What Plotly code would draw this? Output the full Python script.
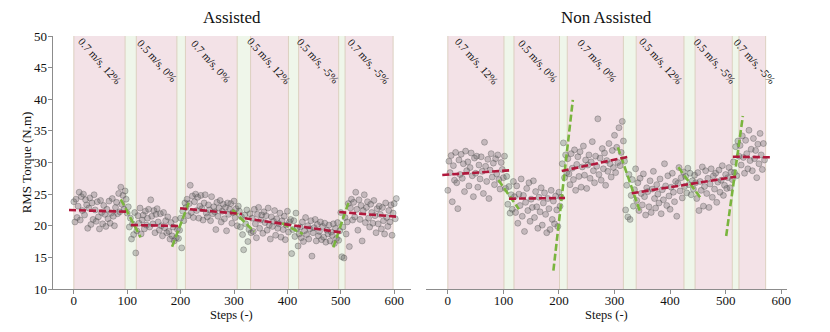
import plotly.graph_objects as go

# ---------------- data ----------------
# RMS torque per step (sampled every 2 steps), Assisted
assisted_torque = [
    23.8, 20.6, 24.2, 21.3, 23.1, 25.3, 20.9, 24.6, 22.4, 25.0,
    21.7, 24.1, 23.3, 19.6, 22.8, 24.4, 20.2, 23.6, 21.0, 24.9,
    22.5, 20.7, 23.8, 21.4, 19.5, 24.0, 22.1, 20.3, 23.2, 21.8,
    19.9, 22.6, 21.1, 23.9, 20.4, 22.0, 24.3, 21.5, 20.0, 22.9,
    23.7, 21.9, 25.1, 22.2, 26.1, 23.4, 24.8, 22.6, 25.5,
    24.2, 22.0, 23.0, 19.8, 21.2, 17.9, 20.3, 18.6, 22.1, 15.7,
    19.2, 21.6, 20.4, 22.8, 18.7, 20.9, 21.7, 19.5, 22.3, 20.1,
    21.2, 22.6, 19.8, 24.1, 21.5, 20.3, 22.4, 18.9, 21.8, 22.7,
    20.6, 19.3, 21.9, 20.0, 18.4, 22.1, 19.7, 20.8, 18.9, 21.4,
    19.1, 17.9, 20.5, 18.4, 19.8, 17.6, 21.0, 18.1, 19.4,
    18.0, 19.3, 21.2, 16.5, 22.3, 20.8, 23.6,
    22.9, 24.2, 21.6, 23.5, 26.4, 22.1, 24.7, 21.3, 23.8, 25.0,
    22.4, 24.5, 21.2, 23.1, 24.8, 22.7, 20.9, 23.6, 24.9, 22.0,
    21.4, 23.3, 22.5, 20.8, 24.6, 21.9, 23.0, 22.2, 19.4, 23.7,
    21.5, 22.8, 24.0, 20.6, 22.3, 23.4, 21.1, 22.9, 19.2, 23.6,
    21.8, 22.6, 23.5, 20.4, 22.1, 23.9, 21.3, 22.7, 20.0, 23.1,
    22.3, 19.8, 21.4, 18.6, 16.2, 21.7, 20.3, 22.5, 17.5, 19.4, 21.9, 18.9,
    21.2, 19.1, 22.6, 20.3, 18.1, 21.8, 22.9, 19.6, 20.9, 21.7,
    18.8, 22.2, 20.5, 21.6, 19.3, 22.8, 20.1, 17.9, 21.4, 19.9,
    20.7, 22.4, 18.5, 21.1, 19.6, 20.3, 22.0, 18.2, 20.8, 19.4,
    21.5, 17.8, 20.1, 22.3, 19.0, 20.6,
    21.0, 15.6, 19.4, 20.8, 18.3, 22.0, 19.6, 16.8, 18.7,
    19.8, 18.1, 20.6, 17.5, 19.2, 21.3, 18.6, 20.0, 17.9, 19.5,
    20.8, 15.2, 18.9, 19.7, 21.0, 17.6, 20.2, 18.4, 19.1, 20.6,
    17.8, 19.9, 18.2, 20.4, 17.4, 19.3, 18.7, 20.1, 17.6, 19.0,
    18.5, 20.3, 17.2, 19.6, 18.0, 20.5, 17.7, 19.2,
    22.1, 15.1, 19.8, 14.9, 21.3, 18.7, 20.6,
    23.5, 16.7, 22.8, 24.2, 20.9, 23.7, 21.4, 25.3, 22.6, 19.3,
    24.1, 21.0, 23.2, 17.6, 22.4, 24.9, 20.5, 22.9, 23.8, 21.2,
    19.8, 23.4, 22.1, 20.4, 24.0, 21.6, 18.9, 22.7, 20.3, 23.1,
    21.8, 19.5, 22.9, 20.8, 18.7, 23.6, 21.3, 19.9, 22.4, 20.6,
    23.3, 18.5, 22.0, 23.5, 21.1, 24.3,
]

# RMS torque per step (sampled every 2 steps), Non Assisted
non_assisted_torque = [
    25.6, 30.2, 28.4, 31.1, 23.8, 29.5, 27.2, 31.6, 26.8, 22.7,
    30.4, 28.1, 31.3, 27.5, 29.8, 25.4, 31.8, 28.7, 30.1, 26.3,
    29.2, 31.5, 27.9, 24.6, 30.7, 28.3, 31.0, 26.1, 29.6, 27.4,
    30.9, 28.6, 25.1, 33.2, 29.4, 27.0, 30.5, 24.3, 28.8, 31.4,
    27.7, 29.9, 26.5, 30.6, 28.2, 31.2, 27.3, 25.8, 30.0, 28.9,
    27.6,
    31.0, 25.9, 27.8, 23.4, 26.2, 22.0, 24.9, 22.6, 27.0,
    24.6, 22.1, 26.3, 20.4, 25.0, 23.2, 27.4, 21.5, 24.8, 19.1,
    23.7, 25.9, 22.4, 26.8, 20.7, 24.2, 22.9, 27.1, 21.3, 25.4,
    23.0, 19.6, 24.5, 22.2, 26.0, 20.1, 23.6, 25.2, 21.8, 18.9,
    24.3, 22.7, 19.4, 25.6, 21.0, 23.9, 20.3, 24.7, 22.5, 19.9,
    25.3, 23.1,
    24.5, 29.8, 33.1, 27.6, 31.2, 28.4,
    30.6, 28.2, 26.5, 31.4, 29.1, 27.3, 32.0, 25.6, 29.7, 30.9,
    27.8, 31.7, 26.1, 29.3, 32.6, 28.0, 30.4, 25.9, 29.6, 31.2,
    27.5, 30.1, 33.3, 28.7, 26.8, 31.0, 29.4, 36.9, 28.1, 30.7,
    27.2, 32.2, 29.0, 31.5, 26.4, 30.3, 28.6, 33.0, 29.8, 27.7,
    31.9, 29.2, 34.3, 28.4, 32.4, 30.0, 35.5, 29.5, 31.6, 36.5,
    33.4,
    30.2, 22.5, 26.4, 21.4, 28.1, 21.0, 24.8, 27.3, 23.1, 25.7, 29.0,
    24.0, 26.8, 22.4, 27.5, 25.1, 23.3, 28.2, 24.6, 21.7, 26.0,
    25.4, 23.0, 27.1, 22.1, 25.8, 28.6, 24.3, 22.8, 26.5, 25.0,
    23.6, 27.4, 21.9, 25.7, 24.1, 29.8, 26.3, 23.2, 27.9, 24.7,
    22.6, 26.1, 28.3, 25.3, 23.8, 27.0, 21.5, 26.7, 29.2, 25.5,
    27.6, 24.4, 28.5, 26.2,
    27.8, 25.2, 29.1, 26.5, 28.3, 24.9, 27.1, 25.8, 28.0,
    26.8, 24.3, 28.4, 22.4, 27.0, 25.6, 29.3, 23.1, 26.2, 28.7,
    25.1, 27.5, 22.9, 26.6, 29.0, 24.5, 27.9, 25.8, 28.3, 23.7,
    26.9, 28.8, 25.3, 27.2, 29.5, 24.8, 26.4, 28.1, 25.9, 27.6,
    29.2, 26.0, 28.5, 27.3,
    30.1, 28.4, 32.5, 27.9, 33.4, 31.0,
    32.7, 29.6, 34.2, 30.8, 28.3, 33.5, 31.4, 29.0, 35.1, 30.3,
    32.1, 28.7, 33.8, 30.6, 31.9, 27.6, 32.9, 29.8, 34.6, 31.2,
    28.9, 33.0, 30.4,
]
step_interval = 2

# condition boundaries in steps (steady, transition, steady, ...)
assisted_bounds = [0, 96, 117, 193, 209, 306, 331, 402, 421, 496, 508, 598]
non_assisted_bounds = [0, 101, 119, 201, 215, 316, 339, 425, 445, 512, 524, 572]

condition_labels = ["0.7 m/s, 12%", "0.5 m/s, 0%", "0.7 m/s, 0%",
                    "0.5 m/s, 12%", "0.5 m/s, -5%", "0.7 m/s, -5%"]
assisted_label_steps = [49, 157, 257, 366, 458, 552]
non_assisted_label_steps = [52, 163, 270, 384, 481, 552]
label_torque = 46.1

# steady-state fits: start step, end step, start torque, end torque
assisted_steady_fit = {
    "x0": [-9, 107, 199, 320, 497],
    "x1": [101, 197, 315, 500, 606],
    "y0": [22.49, 20.12, 22.76, 21.18, 22.17],
    "y1": [22.22, 19.96, 21.86, 18.95, 21.43],
}
assisted_transition_fit = {
    "x0": [88, 184, 297, 390, 486],
    "x1": [125, 216, 338, 429, 516],
    "y0": [24.18, 16.69, 22.49, 20.39, 16.59],
    "y1": [18.17, 23.80, 19.06, 18.70, 24.07],
}
non_assisted_steady_fit = {
    "x0": [-10, 110, 205, 331, 513],
    "x1": [111, 211, 325, 519, 581],
    "y0": [28.02, 24.28, 28.66, 25.13, 30.92],
    "y1": [28.76, 24.39, 30.92, 27.76, 30.82],
}
non_assisted_transition_fit = {
    "x0": [91, 190, 306, 415, 501],
    "x1": [128, 225, 346, 454, 531],
    "y0": [27.23, 12.90, 32.40, 29.24, 18.38],
    "y1": [22.60, 39.90, 22.20, 24.50, 37.35],
}

x_ticks = [0, 100, 200, 300, 400, 500, 600]
y_ticks = [10, 15, 20, 25, 30, 35, 40, 45, 50]

# ---------------- styling ----------------
FONT = "Times New Roman, Liberation Serif, DejaVu Serif, serif"
PINK = "rgba(243,226,231,1)"
GREEN = "rgba(239,246,234,1)"
EDGE = "rgba(214,200,180,0.8)"
RED = "#b0183c"
LGREEN = "#7ab53e"
AXIS = "#8c8c8c"
W, H = 830, 332
TOP, BOT = 36, 289
PH = BOT - TOP

fig = go.Figure()
shapes = []
annotations = []

panels = [
    ("x", "y", assisted_torque, assisted_bounds, assisted_label_steps,
     assisted_steady_fit, assisted_transition_fit),
    ("x2", "y2", non_assisted_torque, non_assisted_bounds, non_assisted_label_steps,
     non_assisted_steady_fit, non_assisted_transition_fit),
]

for xr, yr, torque, bounds, lab_steps, steady, trans in panels:
    for i in range(len(bounds) - 1):
        shapes.append(dict(type="rect", xref=xr, yref=yr, x0=bounds[i], x1=bounds[i + 1],
                           y0=10, y1=50, fillcolor=PINK if i % 2 == 0 else GREEN,
                           line=dict(width=0), layer="below"))
    for b in bounds:
        shapes.append(dict(type="line", xref=xr, yref=yr, x0=b, x1=b, y0=10, y1=50,
                           line=dict(color=EDGE, width=1), layer="below"))
    steps = [i * step_interval for i in range(len(torque))]
    fig.add_trace(go.Scatter(
        x=steps, y=torque, mode="markers", xaxis=xr, yaxis=yr, showlegend=False,
        marker=dict(size=6, color="rgba(95,95,95,0.32)",
                    line=dict(color="rgba(70,70,70,0.4)", width=0.8)),
        hoverinfo="skip"))
    for fit, col in ((trans, LGREEN), (steady, RED)):
        for k in range(len(fit["x0"])):
            fig.add_trace(go.Scatter(
                x=[fit["x0"][k], fit["x1"][k]], y=[fit["y0"][k], fit["y1"][k]],
                mode="lines", xaxis=xr, yaxis=yr, showlegend=False,
                line=dict(color=col, width=2.6, dash="7px,3px"), hoverinfo="skip"))
    for lab, s in zip(condition_labels, lab_steps):
        annotations.append(dict(x=s, y=label_torque, xref=xr, yref=yr, text=lab,
                                showarrow=False, textangle=48,
                                font=dict(family=FONT, size=11, color="#111"),
                                xanchor="center", yanchor="middle"))

title_y = 1 + (TOP - 18) / PH
for txt, cx in (("Assisted", 233), ("Non Assisted", 609)):
    annotations.append(dict(x=cx / W, y=title_y, xref="paper", yref="paper",
                            text=txt, showarrow=False,
                            font=dict(family=FONT, size=17, color="#111"),
                            xanchor="center", yanchor="middle"))

# axis titles
xlabel_y = (BOT - 314.5) / PH
for cx in (233, 609):
    annotations.append(dict(x=cx / W, y=xlabel_y, xref="paper", yref="paper",
                            text="Steps (-)", showarrow=False,
                            font=dict(family=FONT, size=12.5, color="#111"),
                            xanchor="center", yanchor="middle"))
annotations.append(dict(x=27 / W, y=0.5, xref="paper", yref="paper",
                        text="RMS Torque (N.m)", showarrow=False, textangle=-90,
                        font=dict(family=FONT, size=13, color="#111"),
                        xanchor="center", yanchor="middle"))

common_x = dict(tickvals=x_ticks, ticks="outside", ticklen=4, tickcolor=AXIS,
                showline=True, linecolor=AXIS, linewidth=1.2, showgrid=False,
                zeroline=False, ticklabelstandoff=-5,
                tickfont=dict(family=FONT, size=13, color="#111"))

fig.update_layout(
    width=W, height=H,
    margin=dict(l=0, r=0, t=TOP, b=H - BOT),
    paper_bgcolor="white", plot_bgcolor="white",
    shapes=shapes, annotations=annotations,
    xaxis=dict(domain=[53 / W, 413 / W], range=[-39.5, 631.5], anchor="y", **common_x),
    yaxis=dict(domain=[0, 1], range=[10, 50], tickvals=y_ticks, ticks="outside",
               ticklen=4, tickcolor=AXIS, showline=True, linecolor=AXIS, linewidth=1.2,
               showgrid=False, zeroline=False, anchor="x", ticklabelstandoff=-2,
               tickfont=dict(family=FONT, size=13, color="#111")),
    xaxis2=dict(domain=[428 / W, 791 / W], range=[-39.4, 610.8], anchor="y2", **common_x),
    yaxis2=dict(domain=[0, 1], range=[10, 50], showticklabels=False, ticks="",
                showline=False, showgrid=False, zeroline=False, anchor="x2"),
)

fig.write_html("out.html", config={"displayModeBar": False},
               post_script="document.body.style.margin='0px';document.body.style.overflow='hidden';")
